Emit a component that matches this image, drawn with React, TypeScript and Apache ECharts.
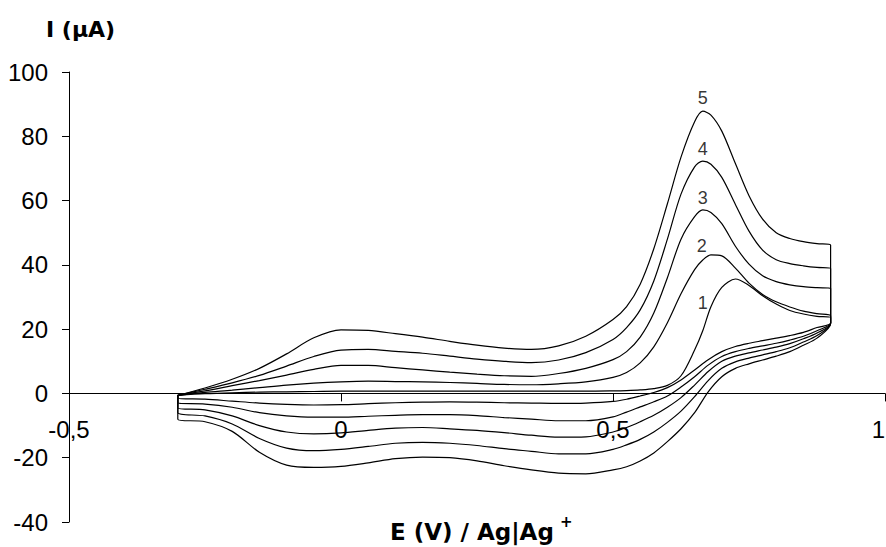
import React, { useEffect, useRef } from "react";
import * as echarts from "echarts";

// Potentials (V) of the forward (anodic) and reverse (cathodic) sweeps
const ePotFwd = [-0.3, -0.25, -0.2, -0.15, -0.1, -0.05, 0, 0.05, 0.1, 0.15, 0.2, 0.25, 0.3, 0.35, 0.4, 0.45, 0.5, 0.525, 0.55, 0.575, 0.6, 0.625, 0.65, 0.665, 0.68, 0.7, 0.725, 0.75, 0.775, 0.8, 0.825, 0.85, 0.875, 0.9];
const ePotRev = [0.9, 0.875, 0.85, 0.825, 0.8, 0.775, 0.75, 0.725, 0.7, 0.675, 0.65, 0.625, 0.6, 0.575, 0.55, 0.525, 0.5, 0.45, 0.4, 0.35, 0.3, 0.25, 0.2, 0.15, 0.1, 0.05, 0, -0.05, -0.1, -0.15, -0.2, -0.25, -0.3];

// Currents (µA), forward sweeps
const curve1Fwd = [-0.6, -0.1, 0.2, 0.4, 0.5, 0.6, 0.7, 0.7, 0.7, 0.7, 0.7, 0.7, 0.7, 0.7, 0.7, 0.7, 0.8, 0.9, 1.1, 1.5, 2.5, 5.5, 13.5, 19.5, 27, 33, 35.6, 33.6, 30.4, 27.8, 25.8, 24.7, 24, 23.6];
const curve2Fwd = [-0.6, 0.3, 1, 1.8, 2.6, 3.2, 3.6, 3.8, 3.7, 3.6, 3.4, 3.1, 2.8, 2.7, 3, 3.6, 5, 6.5, 9.5, 14.5, 22, 31, 38.5, 41.5, 43.1, 42.8, 39, 34.3, 30.8, 28.5, 26.9, 25.6, 24.8, 24.2];
const curve3Fwd = [-0.6, 0.8, 2.4, 4, 5.7, 7.5, 8.7, 8.7, 8, 7.3, 6.6, 6, 5.5, 5.3, 6.2, 7.8, 10.5, 13, 17.5, 25, 36, 48, 55, 57.1, 56.3, 52.8, 45.8, 40.2, 36.6, 34.8, 33.8, 33.2, 32.9, 32.7];
const curve4Fwd = [-0.6, 1.3, 3.3, 5.6, 8.5, 11.5, 13.5, 13.7, 13.1, 12.5, 11.6, 10.7, 10, 9.6, 10.4, 12.7, 16.8, 20.5, 26, 35, 48, 62, 70.5, 72.3, 71.3, 67.2, 58.8, 50.5, 44.6, 41.6, 40.4, 39.7, 39.2, 38.9];
const curve5Fwd = [-0.6, 1.7, 4.4, 7.8, 12.3, 17.3, 19.8, 19.6, 18.6, 17.5, 16.2, 15, 14.1, 13.7, 14.8, 17.8, 23, 27, 34, 45, 59, 73.5, 84.5, 87.8, 86.6, 81.6, 71.5, 61.5, 54.2, 50, 48.2, 47.2, 46.6, 46.2];

// Currents (µA), reverse sweeps
const curve1Rev = [21.8, 20.5, 19, 18, 17.2, 16.4, 15.6, 14.6, 13, 10.5, 7.3, 4.2, 1.8, 0.3, -0.8, -1.8, -2.5, -3, -3.1, -3, -2.9, -2.7, -2.6, -2.7, -2.9, -3.2, -3.5, -3.6, -3.4, -3, -2.4, -1.8, -1.5];
const curve2Rev = [21.8, 19.5, 17.8, 16.6, 15.6, 14.8, 14, 13, 11.5, 8.8, 5.2, 2, -0.8, -2.6, -4.2, -5.8, -7.3, -8.5, -8.5, -8, -7.5, -6.9, -6.6, -6.6, -6.8, -7.1, -7.4, -7.4, -7, -6, -4.3, -3.3, -3];
const curve3Rev = [21.8, 18.8, 17, 15.5, 14.4, 13.5, 12.6, 11.6, 10, 6.8, 2.6, -1.3, -4.3, -6.8, -8.8, -10.6, -12, -13.5, -13.6, -13, -12.2, -11.5, -11, -10.6, -10.8, -11.5, -12.3, -12.6, -12, -10, -7, -5.1, -4.5];
const curve4Rev = [21.8, 18, 16, 14.2, 13, 12, 11, 9.8, 7.8, 4, -1, -5.5, -9, -12, -14.3, -16, -17.4, -18.8, -18.8, -18, -17.2, -16.2, -15.5, -15.2, -15.5, -16.5, -17.4, -17.8, -17, -14, -9.5, -7, -6];
const curve5Rev = [21.8, 17.2, 15, 13, 11.6, 10.4, 9.2, 7.8, 5.2, 0.5, -6, -11, -15, -18.5, -21, -22.8, -23.8, -25, -24.8, -23.8, -22.5, -21, -20, -19.8, -20.3, -21.6, -22.7, -23, -22.3, -18.3, -11.8, -8.8, -8];

// Curve numbers and where they are written
const curveNames = ["1", "2", "3", "4", "5"];
const labelE = [0.665, 0.663, 0.665, 0.665, 0.665];
const labelI = [28, 46, 60.8, 75.9, 91.9];

// Axes
const xMin = -0.5;
const xMax = 1;
const xStep = 0.5;
const yMin = -40;
const yMax = 100;
const yStep = 20;

const FONT = "'Liberation Sans', Arial, Helvetica, sans-serif";
const TITLE_FONT = "'DejaVu Sans', 'Liberation Sans', Arial, sans-serif";

const GRID_TOP = 72;
const GRID_BOTTOM = 25;
const CHART_H = 547;

export default function App() {
  const ref = useRef<HTMLDivElement>(null);

  useEffect(() => {
    const chart = echarts.init(ref.current!, null, { renderer: "svg" });
    const fwd = [curve1Fwd, curve2Fwd, curve3Fwd, curve4Fwd, curve5Fwd];
    const rev = [curve1Rev, curve2Rev, curve3Rev, curve4Rev, curve5Rev];

    const plotH = CHART_H - GRID_TOP - GRID_BOTTOM;
    const zeroOffset = -plotH * (0 - yMin) / (yMax - yMin);

    const lineSeries = fwd.map((f, i) => ({
      type: "line",
      name: curveNames[i],
      symbol: "none",
      showSymbol: false,
      smooth: 0.3,
      silent: true,
      lineStyle: { color: "#000", width: 1.2 },
      data: [
        ...ePotFwd.map((e, j) => [e, f[j]]),
        ...ePotRev.map((e, j) => [e, rev[i][j]]),
        [ePotFwd[0], f[0]],
      ],
    }));

    const labelSeries = {
      type: "scatter",
      symbolSize: 0,
      silent: true,
      itemStyle: { color: "#000" },
      data: curveNames.map((n, i) => ({ value: [labelE[i], labelI[i]], name: n })),
      label: {
        show: true,
        position: "inside",
        formatter: (p: any) => p.name,
        color: "#000",
        textBorderWidth: 0,
        fontSize: 18,
        fontFamily: FONT,
      },
    };

    chart.setOption({
      animation: false,
      backgroundColor: "#fff",
      grid: { left: 69, right: 1, top: GRID_TOP, bottom: GRID_BOTTOM, containLabel: false, outerBoundsMode: "none" },
      xAxis: {
        type: "value",
        min: xMin,
        max: xMax,
        interval: xStep,
        offset: zeroOffset,
        splitLine: { show: false },
        axisLine: { show: true, onZero: false, lineStyle: { color: "#000", width: 1 } },
        axisTick: { show: true, inside: false, length: 8, lineStyle: { color: "#000" } },
        axisLabel: {
          margin: 24,
          color: "#000",
          fontSize: 24,
          fontFamily: FONT,
          showMinLabel: true,
          showMaxLabel: true,
          alignMaxLabel: "right",
          formatter: (v: number) => String(v).replace(".", ","),
        },
      },
      yAxis: {
        type: "value",
        min: yMin,
        max: yMax,
        interval: yStep,
        splitLine: { show: false },
        axisLine: { show: true, onZero: false, lineStyle: { color: "#000", width: 1 } },
        axisTick: { show: true, inside: false, length: 7, lineStyle: { color: "#000" } },
        axisLabel: {
          margin: 21,
          color: "#000",
          fontSize: 24,
          fontFamily: FONT,
        },
      },
      graphic: [
        {
          type: "text",
          left: 46,
          top: 18,
          style: { text: "I (µA)", fill: "#000", fontSize: 22, fontWeight: "bold", fontFamily: TITLE_FONT },
        },
        {
          type: "text",
          left: 390,
          top: 520,
          style: { text: "E (V) / Ag|Ag", fill: "#000", fontSize: 23, fontWeight: "bold", fontFamily: TITLE_FONT },
        },
        {
          type: "text",
          left: 560,
          top: 514,
          style: { text: "+", fill: "#000", fontSize: 15, fontWeight: "bold", fontFamily: TITLE_FONT },
        },
      ],
      series: [...lineSeries, labelSeries],
    });

    return () => chart.dispose();
  }, []);

  return (
    <div
      ref={ref}
      style={{ position: "fixed", left: 0, top: 0, width: 886, height: 547, background: "#fff" }}
    />
  );
}
